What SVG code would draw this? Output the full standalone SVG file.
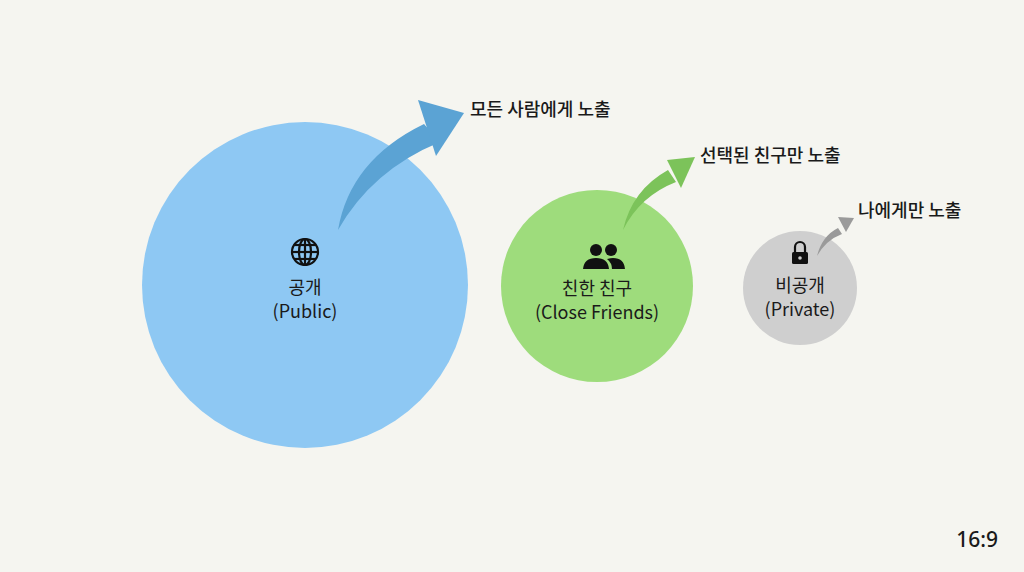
<svg xmlns="http://www.w3.org/2000/svg" width="1024" height="572" viewBox="0 0 1024 572">
<style>
text{font-family:"Noto Sans CJK KR","Noto Sans",sans-serif;fill:#1a1a1a}
.lbl{font-size:18px;text-anchor:middle}
.cap{font-size:18px;font-weight:500}
.ic{fill:#111}
</style>
<rect width="1024" height="572" fill="#f5f5f0"/>
<g id="public">
<circle cx="305" cy="285" r="163" fill="#8ec8f3"/>
<g fill="none" stroke="#111" stroke-width="2.2">
<circle cx="305" cy="252" r="13"/>
<ellipse cx="305" cy="252" rx="6" ry="13"/>
<line x1="292" y1="252" x2="318" y2="252"/>
<line x1="294" y1="245" x2="316" y2="245"/>
<line x1="294" y1="259" x2="316" y2="259"/>
<line x1="305" y1="239" x2="305" y2="265"/>
</g>
<text class="lbl" x="305" y="294">공개</text>
<text class="lbl" x="305" y="318">(Public)</text>
</g>
<g id="friends">
<circle cx="597" cy="286" r="96" fill="#9edc7c"/>
<g class="ic">
<circle cx="596" cy="250" r="6"/>
<circle cx="611" cy="250" r="6"/>
<path d="M583,269 Q584,258 596,258 Q608,258 609,269 Z"/>
<path d="M607,259 Q611,258 613,258 Q624,258 625,269 L612,269 Q612,263 607,259 Z"/>
</g>
<text class="lbl" x="597" y="295">친한 친구</text>
<text class="lbl" x="597" y="319">(Close Friends)</text>
</g>
<g id="private">
<circle cx="800" cy="288" r="57" fill="#cfcfcf"/>
<path d="M795,252 v-5 a5,5 0 0 1 10,0 v5" fill="none" stroke="#111" stroke-width="2.2"/>
<rect x="792" y="252" width="16" height="12" rx="1.5" class="ic"/>
<circle cx="800" cy="258" r="1.8" fill="#cfcfcf"/>
<text class="lbl" x="800" y="292">비공개</text>
<text class="lbl" x="800" y="316">(Private)</text>
</g>
<g id="connectors">
<path d="M338,230 Q350,160 424,124 L440,142 Q372,170 338,230 Z" fill="#5ba3d4"/>
<polygon points="418,100 464,113 436,156" fill="#5ba3d4"/>
<path d="M623,230 Q632,190 668,170 L676,182 Q640,196 623,230 Z" fill="#7cc35a"/>
<polygon points="667,160 695,157 681,188" fill="#7cc35a"/>
<path d="M817,256 Q822,236 838,228 L842,234 Q826,240 817,256 Z" fill="#9a9a9a"/>
<polygon points="838,217 854,218 846,232" fill="#9a9a9a"/>
</g>
<text class="cap" x="470" y="116">모든 사람에게 노출</text>
<text class="cap" x="700" y="162">선택된 친구만 노출</text>
<text class="cap" x="858" y="217">나에게만 노출</text>
<text x="998" y="547" font-size="21" text-anchor="end" style="font-family:'Noto Sans',sans-serif;font-weight:500">16:9</text>
</svg>
